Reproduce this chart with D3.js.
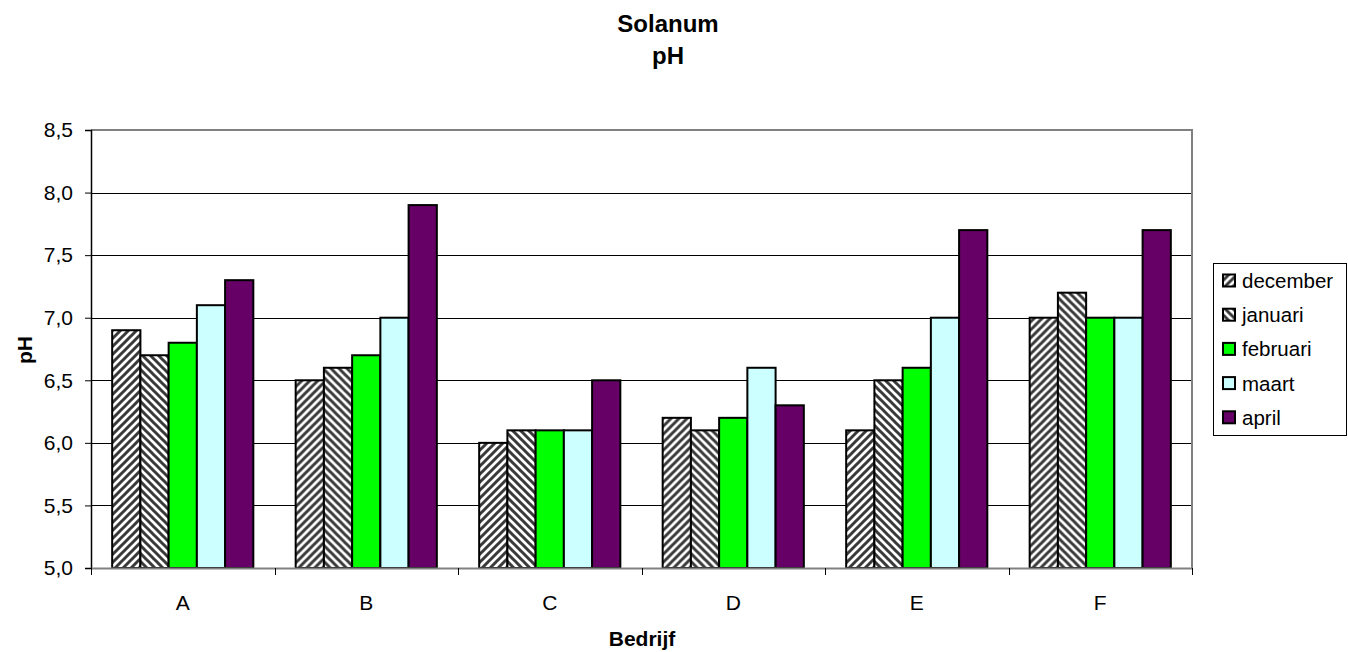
<!DOCTYPE html>
<html>
<head>
<meta charset="utf-8">
<script src="https://cdn.jsdelivr.net/npm/d3@7"></script>
<style>
  html, body { margin: 0; padding: 0; background: #fff; }
  svg { display: block; font-family: Arial, "Liberation Sans", sans-serif; }
</style>
</head>
<body>
<svg id="chart" width="1348" height="652"></svg>
<script>
// Bedrijven (companies) on the x axis
const bedrijven = ["A", "B", "C", "D", "E", "F"];
// Months shown as series
const maanden = ["december", "januari", "februari", "maart", "april"];
// pH per month, one entry per company
const december = [6.9, 6.5, 6.0, 6.2, 6.1, 7.0];
const januari  = [6.7, 6.6, 6.1, 6.1, 6.5, 7.2];
const februari = [6.8, 6.7, 6.1, 6.2, 6.6, 7.0];
const maart    = [7.1, 7.0, 6.1, 6.6, 7.0, 7.0];
const april    = [7.3, 7.9, 6.5, 6.3, 7.7, 7.7];
const yTicks = [5.0, 5.5, 6.0, 6.5, 7.0, 7.5, 8.0, 8.5];

const seriesValues = [december, januari, februari, maart, april];

const svg = d3.select("#chart");
const plotL = 91, plotR = 1192, plotT = 130, plotB = 568;
const FONT = "Arial, 'Liberation Sans', sans-serif";

// Fill patterns for the two hatched series
const defs = svg.append("defs");
function hatch(id, up) {
  const p = defs.append("pattern")
    .attr("id", id)
    .attr("patternUnits", "userSpaceOnUse")
    .attr("width", 8).attr("height", 8);
  p.append("rect").attr("width", 8).attr("height", 8).attr("fill", "#fff");
  const d = up
    ? "M-2,2 L2,-2 M0,8 L8,0 M6,10 L10,6"
    : "M-2,6 L2,10 M0,0 L8,8 M6,-2 L10,2";
  p.append("path").attr("d", d).attr("stroke", "#3a3a3a").attr("stroke-width", 3);
}
hatch("hatch-up", true);
hatch("hatch-down", false);

const fills = ["url(#hatch-up)", "url(#hatch-down)", "#00ff00", "#ccffff", "#660066"];

const x = d3.scaleBand().domain(bedrijven).range([plotL, plotR]).paddingInner(0).paddingOuter(0);
const bw = x.bandwidth() / 6.5;
const x1 = d3.scaleBand().domain(maanden).range([bw * 0.75, x.bandwidth() - bw * 0.75]).padding(0);
const y = d3.scaleLinear().domain([5, 8.5]).range([plotB, plotT]);

// Title
svg.append("text").attr("x", 668).attr("y", 32).attr("text-anchor", "middle")
  .attr("font-weight", "bold").attr("font-size", 24).text("Solanum");
svg.append("text").attr("x", 668).attr("y", 64).attr("text-anchor", "middle")
  .attr("font-weight", "bold").attr("font-size", 24).text("pH");

// Gridlines
svg.append("g").selectAll("line").data(yTicks.slice(1, -1)).join("line")
  .attr("x1", plotL).attr("x2", plotR)
  .attr("y1", d => Math.round(y(d)) + 0.5).attr("y2", d => Math.round(y(d)) + 0.5)
  .attr("stroke", "#000").attr("stroke-width", 1);

// Plot frame (top and right)
svg.append("path")
  .attr("d", `M${plotL},${plotT} L${plotR},${plotT} L${plotR},${plotB}`)
  .attr("fill", "none").attr("stroke", "#808080").attr("stroke-width", 2);

// Bars
const groups = svg.append("g").selectAll("g").data(bedrijven).join("g")
  .attr("transform", d => `translate(${x(d)},0)`);
groups.selectAll("rect")
  .data((b, i) => maanden.map((m, k) => ({ m, k, v: seriesValues[k][i] })))
  .join("rect")
  .attr("x", d => x1(d.m))
  .attr("width", x1.bandwidth())
  .attr("y", d => y(d.v))
  .attr("height", d => y(5) - y(d.v))
  .attr("fill", d => fills[d.k])
  .attr("stroke", "#000").attr("stroke-width", 2);

// Y axis
const yAxis = d3.axisLeft(y).tickValues(yTicks).tickSize(6)
  .tickFormat(d => d3.format(".1f")(d).replace(".", ","));
const gy = svg.append("g").attr("transform", `translate(${plotL},0)`).call(yAxis);
gy.select(".domain").attr("stroke", "#000").attr("stroke-width", 1.5);
gy.selectAll(".tick line").attr("stroke", "#000");
gy.selectAll(".tick text").attr("font-size", 21).attr("font-family", FONT)
  .attr("fill", "#000").attr("x", -18);

// X axis
const gx = svg.append("g").attr("transform", `translate(0,${plotB})`)
  .call(d3.axisBottom(x).tickSize(0).tickPadding(27));
gx.select(".domain").attr("stroke", "#808080").attr("stroke-width", 2);
gx.selectAll(".tick text").attr("font-size", 21).attr("font-family", FONT)
  .attr("fill", "#000");
// Category separator ticks
svg.append("g").selectAll("line").data(bedrijven.concat(["end"])).join("line")
  .attr("x1", (d, i) => Math.round(plotL + i * x.bandwidth()) + 0.5)
  .attr("x2", (d, i) => Math.round(plotL + i * x.bandwidth()) + 0.5)
  .attr("y1", plotB).attr("y2", plotB + 7)
  .attr("stroke", "#000").attr("stroke-width", 1);

// Axis titles
svg.append("text").attr("x", 642).attr("y", 646).attr("text-anchor", "middle")
  .attr("font-weight", "bold").attr("font-size", 21).text("Bedrijf");
svg.append("text").attr("transform", "translate(32,350) rotate(-90)")
  .attr("text-anchor", "middle").attr("font-weight", "bold").attr("font-size", 21).text("pH");

// Legend
const lg = svg.append("g");
lg.append("rect").attr("x", 1213.5).attr("y", 263.5).attr("width", 133).attr("height", 172)
  .attr("fill", "#fff").attr("stroke", "#000").attr("stroke-width", 1);
const items = lg.selectAll("g").data(maanden).join("g")
  .attr("transform", (d, i) => `translate(1223,${280.5 + i * 34.2})`);
items.append("rect").attr("x", 0).attr("y", -6).attr("width", 12).attr("height", 12)
  .attr("fill", (d, i) => fills[i]).attr("stroke", "#000").attr("stroke-width", 2);
items.append("text").attr("x", 19).attr("y", 7.5).attr("font-size", 20.5).text(d => d);
</script>
</body>
</html>
